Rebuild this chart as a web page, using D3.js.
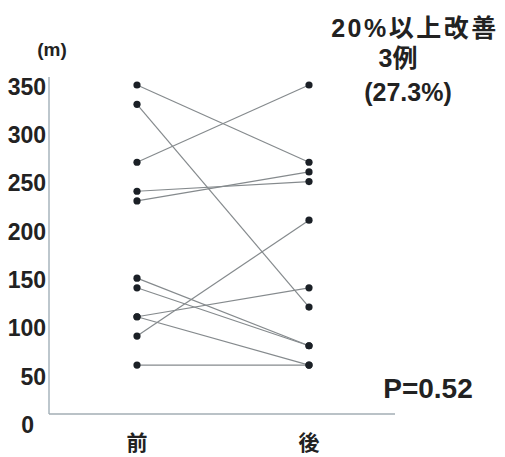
<!DOCTYPE html>
<html>
<head>
<meta charset="utf-8">
<title>前後比較</title>
<style>
  body { margin: 0; background: #fff; }
  text { font-family: "Liberation Sans", Arial, "Noto Sans CJK JP", sans-serif; fill: #222; }
  .cjk { font-family: "Liberation Sans", "Noto Sans CJK JP", sans-serif; }
</style>
</head>
<body>
<div class="plot_container"></div>
<script src="https://cdn.jsdelivr.net/npm/d3@7"></script>
<script>
// data (m)
var phases = ["前", "後"];
var before = [350, 330, 270, 240, 230, 150, 140, 110, 110, 90, 60];
var after  = [270, 120, 350, 250, 260, 80, 80, 140, 60, 210, 60];
var yTicks = [0, 50, 100, 150, 200, 250, 300, 350];
var noteLines = ["20%以上改善", "3例", "(27.3%)"];
var pText = "P=0.52";

var width = 505, height = 457;

var svg = d3.select(".plot_container").append("svg")
    .attr("width", width)
    .attr("height", height);

var x = d3.scalePoint().domain(phases).range([137, 309]);
var y = d3.scaleLinear().domain([0, 350]).range([423, 85]);

// axis frame (left + bottom line)
var axisLeft = 49, axisTop = 77, axisBottom = 414, axisRight = 395;
svg.append("line")
    .attr("x1", axisLeft).attr("x2", axisLeft)
    .attr("y1", axisTop).attr("y2", axisBottom)
    .style("stroke", "#a7b4bd").style("stroke-width", 1.5);
svg.append("line")
    .attr("x1", axisLeft).attr("x2", axisRight)
    .attr("y1", axisBottom).attr("y2", axisBottom)
    .style("stroke", "#a3aeb5").style("stroke-width", 1.5);

// y tick labels
var yAxis = d3.axisLeft(y).tickValues(yTicks).tickSize(0).tickPadding(0);
var gy = svg.append("g").attr("transform", "translate(46,2)").call(yAxis);
gy.select(".domain").remove();
gy.selectAll("text")
    .style("font-size", "23px")
    .style("font-weight", "bold")
    .style("fill", "#222")
    .style("font-family", "Liberation Sans, Arial, sans-serif")
    .attr("dx", function(d) { return d === 0 ? -12 : 0; });

svg.append("text")
    .attr("x", 52).attr("y", 56)
    .attr("text-anchor", "middle")
    .style("font-size", "19px").style("font-weight", "bold")
    .text("(m)");

// x labels
svg.selectAll(".xlab")
    .data(phases)
    .enter()
    .append("text")
    .attr("class", "xlab cjk")
    .attr("x", function(d) { return x(d); })
    .attr("y", 450)
    .attr("text-anchor", "middle")
    .style("font-size", "21px")
    .style("font-weight", "bold")
    .text(function(d) { return d; });

// paired lines
var pairs = before.map(function(b, i) { return { b: b, a: after[i] }; });
svg.selectAll(".pair")
    .data(pairs)
    .enter()
    .append("line")
    .attr("class", "pair")
    .attr("x1", x(phases[0]))
    .attr("x2", x(phases[1]))
    .attr("y1", function(d) { return y(d.b); })
    .attr("y2", function(d) { return y(d.a); })
    .style("stroke", "#858a8d")
    .style("stroke-width", 1.2);

// dots
var dots = [];
before.forEach(function(v) { dots.push({ p: phases[0], v: v }); });
after.forEach(function(v) { dots.push({ p: phases[1], v: v }); });
svg.selectAll(".dot")
    .data(dots)
    .enter()
    .append("circle")
    .attr("class", "dot")
    .attr("cx", function(d) { return x(d.p); })
    .attr("cy", function(d) { return y(d.v); })
    .attr("r", 3.6)
    .style("fill", "#1b2026");

// note top-right
var noteX = [415, 398, 408];
var noteY = [37, 67, 101];
svg.selectAll(".note")
    .data(noteLines)
    .enter()
    .append("text")
    .attr("class", "note cjk")
    .attr("x", function(d, i) { return noteX[i]; })
    .attr("y", function(d, i) { return noteY[i]; })
    .attr("text-anchor", "middle")
    .style("font-size", "25px")
    .style("font-weight", "bold")
    .style("letter-spacing", function(d, i) { return i === 0 ? "2.5px" : "0px"; })
    .text(function(d) { return d; });

svg.append("text")
    .attr("x", 428).attr("y", 398)
    .attr("text-anchor", "middle")
    .style("font-size", "28px").style("font-weight", "bold")
    .text(pText);
</script>
</body>
</html>
